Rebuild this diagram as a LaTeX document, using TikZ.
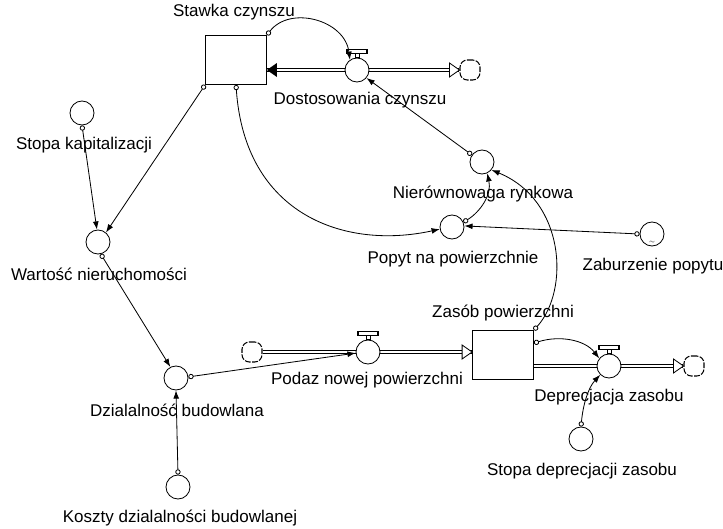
\documentclass[tikz,border=0pt]{standalone}
\usepackage{fontspec}
\setmainfont{Liberation Sans}
\usetikzlibrary{arrows.meta, positioning}

\tikzset{
    opentip/.pic={\draw[fill=white] (0,0) -- (-10,-7) -- (-10,7) -- cycle;},
    solidtip/.pic={\fill (0,0) -- (-10,-7) -- (-10,7) -- cycle;},
    valvetop/.pic={\draw[fill=white] (-2,0) rectangle (2,-4);
                   \draw[fill=white, line width=0.9pt] (-10,-4) rectangle (10,-8);}
}

\begin{document}
\begin{tikzpicture}[x=0.03cm, y=-0.03cm, line width=0.7pt, font=\fontsize{14.5}{16}\selectfont,
    aux/.style={circle, draw, minimum size=0.72cm, inner sep=0pt},
    stock/.style={rectangle, draw, minimum width=1.83cm, minimum height=1.47cm, inner sep=0pt},
    valve/.style={circle, draw, fill=white, minimum size=0.72cm, inner sep=0pt},
    cloudy/.style={rectangle, rounded corners=0.22cm, draw, line width=0.9pt, dash pattern=on 5pt off 1.2pt,
                   minimum size=0.6cm, inner sep=0pt},
    link/.style={{Circle[open,length=4.5pt,width=4.5pt]}-{Latex[length=7pt,width=5pt]}},
    pipe/.style={double, double distance=2.3pt},
    lbl/.style={inner sep=0pt}]
    \useasboundingbox (0,0) rectangle (723,528);

    % Stocks
    \node[stock] (sc) at (236,60) {};
    \node[stock] (zp) at (503,355) {};

    % Clouds and pipes
    \node[cloudy] (c1) at (470,70) {};
    \node[cloudy] (c2) at (252,352) {};
    \node[cloudy] (c3) at (694,366) {};
    \draw[pipe] (sc.east |- c1) -- (c1.west);
    \draw[pipe] (c2.east) -- (zp.west |- c2);
    \draw[pipe] (zp.east |- c3) -- (c3.west);
    \pic[rotate=180] at (sc.east |- c1) {solidtip};
    \pic at (c1.west) {opentip};
    \pic at (zp.west |- c2) {opentip};
    \pic at (c3.west) {opentip};

    % Valves
    \node[valve] (dc) at (357,70) {};
    \node[valve] (pv) at (368,352) {};
    \node[valve] (dv) at (609,366) {};
    \pic at (dc.north) {valvetop};
    \pic at (pv.north) {valvetop};
    \pic at (dv.north) {valvetop};

    % Auxiliaries
    \node[aux] (sk) at (82,113) {};
    \node[aux] (wn) at (98,242) {};
    \node[aux] (db) at (176,378) {};
    \node[aux] (kd) at (178,487) {};
    \node[aux] (nr) at (482,162) {};
    \node[aux] (pp) at (452,227) {};
    \node[aux] (zb) at (652,234) {};
    \node[aux] (sd) at (581,439) {};
    \node[inner sep=0pt, font=\tiny] (zb-m) at (652,242) {$\sim$};

    % Labels
    \node[lbl] (sc-l) at (234,12) {Stawka czynszu};
    \node[lbl] (dc-l) at (360,100) {Dostosowania czynszu};
    \node[lbl] (sk-l) at (84,145) {Stopa kapitalizacji};
    \node[lbl] (wn-l) at (99,274) {Wartość nieruchomości};
    \node[lbl] (db-l) at (177,410) {Dzialalność budowlana};
    \node[lbl] (kd-l) at (180,518) {Koszty dzialalności budowlanej};
    \node[lbl] (pv-l) at (367,380) {Podaz nowej powierzchni};
    \node[lbl] (zp-l) at (503,313) {Zasób powierzchni};
    \node[lbl] (dv-l) at (609,397) {Deprecjacja zasobu};
    \node[lbl] (sd-l) at (582,471) {Stopa deprecjacji zasobu};
    \node[lbl] (nr-l) at (483,194) {Nierównowaga rynkowa};
    \node[lbl] (pp-l) at (453,259) {Popyt na powierzchnie};
    \node[lbl] (zb-l) at (653,266) {Zaburzenie popytu};

    % Links
    \draw[link] (sc.north east) .. controls (290,5) and (345,20) .. (dc.125);
    \draw[link] (nr.145) -- (dc.-40);
    \draw[link] (sc.south west) -- (wn.50);
    \draw[link] (sk.south) -- (wn.95);
    \draw[link] (sc.south) .. controls (245,215) and (345,250) .. (pp.190);
    \draw[link] (wn.-77) -- (db.117);
    \draw[link] (db.5) -- (pv.185);
    \draw[link] (kd.north) -- (db.south);
    \draw[link] (zp.north east) .. controls (570,290) and (565,200) .. (nr.-40);
    \draw[link] (pp.23) .. controls (480,212) and (492,195) .. (nr.-65);
    \draw[link] (zb.west) -- (pp.5);
    \draw[link] (zp.21) .. controls (560,335) and (585,340) .. (dv.142);
    \draw[link] (sd.north) .. controls (583,405) and (588,388) .. (dv.-135);
\end{tikzpicture}
\end{document}
